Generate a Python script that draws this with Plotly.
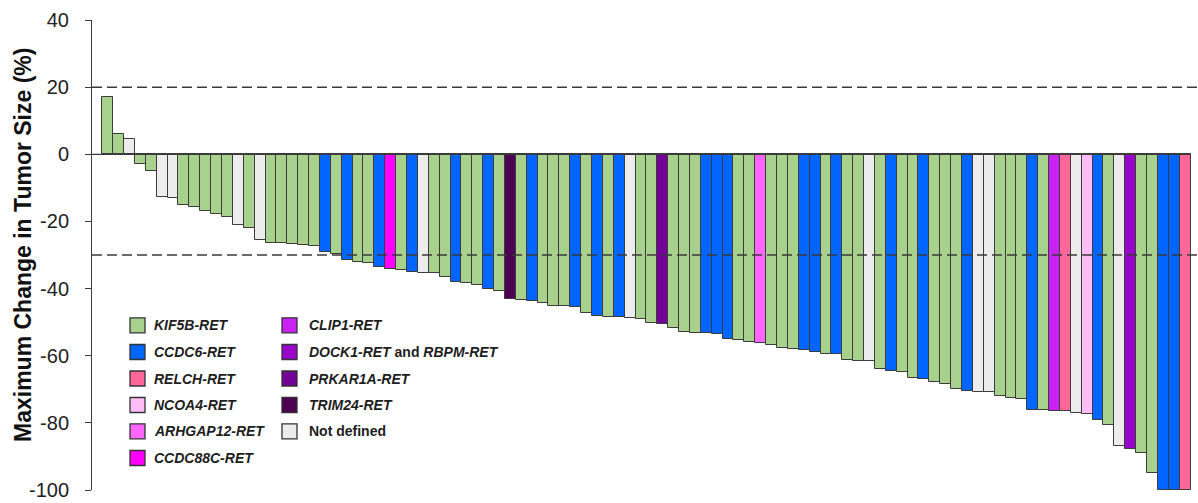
import plotly.graph_objects as go

# ---------------- data ----------------
pct_change = [
    17.2, 6.0, 4.7, -2.9, -5.0, -12.8, -12.9, -15.1, -15.8, -16.8,
    -17.7, -18.7, -21.2, -22.1, -25.5, -26.3, -26.5, -26.7, -27.0, -27.2,
    -29.0, -29.7, -31.5, -32.1, -32.3, -33.7, -34.3, -34.5, -35.0, -35.3,
    -35.5, -36.7, -38.1, -38.2, -38.8, -40.2, -40.8, -43.1, -43.4, -43.6,
    -44.2, -45.2, -45.3, -45.4, -47.2, -48.1, -48.4, -48.6, -48.9, -49.0,
    -50.2, -50.7, -51.7, -52.9, -53.1, -53.2, -53.4, -54.9, -55.2, -56.0,
    -56.3, -56.8, -57.6, -57.9, -58.3, -58.8, -59.5, -59.6, -61.3, -61.6,
    -61.7, -63.9, -64.5, -64.9, -66.5, -66.9, -67.9, -68.3, -69.8, -70.6,
    -70.8, -70.9, -72.1, -72.6, -73.0, -76.1, -76.2, -76.4, -76.5, -77.2,
    -77.5, -79.0, -80.6, -87.0, -87.9, -89.0, -94.8, -100.0, -100.0, -100.0,
]

fusion = [
    "K", "K", "U", "K", "K", "U", "U", "K", "K", "K",
    "K", "K", "U", "K", "U", "K", "K", "K", "K", "K",
    "C", "K", "C", "K", "K", "C", "E", "K", "C", "U",
    "K", "K", "C", "K", "K", "C", "K", "T", "K", "C",
    "K", "K", "K", "C", "K", "C", "K", "C", "U", "K",
    "K", "P", "K", "K", "K", "C", "C", "C", "K", "K",
    "A", "K", "K", "K", "C", "C", "K", "C", "K", "K",
    "U", "K", "C", "K", "K", "C", "K", "K", "K", "C",
    "U", "U", "K", "K", "K", "C", "K", "L", "R", "U",
    "N", "C", "K", "U", "D", "K", "K", "C", "C", "R",
]

category_codes = ["K", "C", "R", "N", "A", "E", "L", "D", "P", "T", "U"]
category_names = ["KIF5B-RET", "CCDC6-RET", "RELCH-RET", "NCOA4-RET", "ARHGAP12-RET",
                  "CCDC88C-RET", "CLIP1-RET", "DOCK1-RET and RBPM-RET", "PRKAR1A-RET",
                  "TRIM24-RET", "Not defined"]
category_labels = [
    "<b><i>KIF5B-RET</i></b>", "<b><i>CCDC6-RET</i></b>", "<b><i>RELCH-RET</i></b>",
    "<b><i>NCOA4-RET</i></b>", "<b><i>ARHGAP12-RET</i></b>", "<b><i>CCDC88C-RET</i></b>",
    "<b><i>CLIP1-RET</i></b>", "<b><i>DOCK1-RET</i> and <i>RBPM-RET</i></b>",
    "<b><i>PRKAR1A-RET</i></b>", "<b><i>TRIM24-RET</i></b>", "<b>Not defined</b>",
]
category_colors = ["#a9d18e", "#0066ff", "#ff6699", "#ffbdf8", "#ff66ff",
                   "#ff00ff", "#c922f2", "#9a06c9", "#730296", "#4c0152", "#ececec"]

y_ticks = [40, 20, 0, -20, -40, -60, -80, -100]
ref_lines = [20, -30]
y_title = "Maximum Change in Tumor Size (%)"

# ---------------- geometry ----------------
W, H = 1198, 503
ML, MR, MT, MB = 92, 0, 20, 13
PW, PH = W - ML - MR, H - MT - MB
n = len(pct_change)
slot = (1190.5 - 102.3) / n
x_lo = 0.5 - (102.3 - ML) / slot
x_hi = 0.5 + (W - MR - 102.3) / slot


def px_x(p):
    return (p - ML) / PW


def px_y(p):
    return (H - MB - p) / PH


FONT = "Arial, 'Liberation Sans', sans-serif"
EDGE = "#3c3c3c"

fig = go.Figure()
xs = list(range(1, n + 1))
for code, name, col in zip(category_codes, category_names, category_colors):
    bx = [x for x, f in zip(xs, fusion) if f == code]
    by = [v for v, f in zip(pct_change, fusion) if f == code]
    fig.add_trace(go.Bar(
        x=bx, y=by, name=name, marker=dict(color=col, line=dict(color=EDGE, width=1)),
        width=1.0, showlegend=False,
    ))

# reference lines
for v in ref_lines:
    fig.add_shape(type="line", xref="paper", yref="y", x0=0, x1=1, y0=v, y1=v,
                  line=dict(color="#3a3a3a", width=1.5, dash="10px,5px"), layer="above")
# zero line
fig.add_shape(type="line", xref="x", yref="y", x0=x_lo, x1=n + 0.5, y0=0, y1=0,
              line=dict(color="#3a3a3a", width=1.3), layer="above")

# manual legend (two columns)
col_x_sq = [130.0, 282.0]
col_x_tx = [152.0, 306.5]
row_y = [325.3, 352.0, 378.5, 405.0, 431.3, 458.0]
sq = 15.0
col_rows = [[0, 1, 2, 3, 4, 5], [6, 7, 8, 9, 10]]
for ci, rows in enumerate(col_rows):
    for ri, k in enumerate(rows):
        cy = row_y[ri]
        fig.add_shape(type="rect", xref="paper", yref="paper",
                      x0=px_x(col_x_sq[ci]), x1=px_x(col_x_sq[ci] + sq),
                      y0=px_y(cy + sq / 2), y1=px_y(cy - sq / 2),
                      fillcolor=category_colors[k], line=dict(color="#333333", width=1.3),
                      layer="above")
        fig.add_annotation(xref="paper", yref="paper", x=px_x(col_x_tx[ci]), y=px_y(cy),
                           xanchor="left", yanchor="middle", showarrow=False,
                           text=category_labels[k],
                           font=dict(family=FONT, size=14, color="#1e1e1e"))

# y-axis title
fig.add_annotation(xref="paper", yref="paper", x=px_x(23), y=px_y(245),
                   xanchor="center", yanchor="middle", showarrow=False, textangle=-90,
                   text="<b>" + y_title + "</b>",
                   font=dict(family=FONT, size=23, color="#111111"))

fig.update_layout(
    width=W, height=H, margin=dict(l=ML, r=MR, t=MT, b=MB, pad=0),
    paper_bgcolor="white", plot_bgcolor="white",
    barmode="overlay", bargap=0,
    showlegend=False,
    xaxis=dict(range=[x_lo, x_hi], visible=False, showgrid=False, zeroline=False),
    yaxis=dict(range=[-100, 40], tickvals=y_ticks, ticktext=[str(t) for t in y_ticks],
               showgrid=False, zeroline=False, showline=True, linecolor="#3c3c3c", linewidth=1,
               ticks="outside", ticklen=6, tickwidth=1, tickcolor="#3c3c3c",
               ticklabelstandoff=12,
               tickfont=dict(family=FONT, size=20, color="#222222")),
)

fig.write_html("out.html", config={"displayModeBar": False},
               post_script="document.body.style.margin='0';document.body.style.overflow='hidden';")
